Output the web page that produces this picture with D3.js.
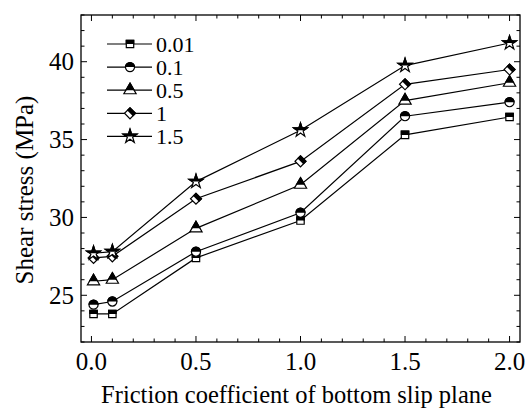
<!DOCTYPE html>
<html>
<head>
<meta charset="utf-8">
<script src="https://cdn.jsdelivr.net/npm/d3@7"></script>
</head>
<body>
<div id="chart"></div>
<script>
// Daten
const frictionX = [0.01, 0.1, 0.5, 1.0, 1.5, 2.0];
const seriesNames = ["0.01", "0.1", "0.5", "1", "1.5"];
const s001 = [23.8, 23.8, 27.4, 29.8, 35.3, 36.45];
const s01 = [24.4, 24.6, 27.8, 30.3, 36.5, 37.4];
const s05 = [25.9, 26.0, 29.3, 32.1, 37.5, 38.65];
const s1 = [27.4, 27.5, 31.2, 33.6, 38.55, 39.5];
const s15 = [27.7, 27.8, 32.3, 35.6, 39.75, 41.2];
const seriesValues = [s001, s01, s05, s1, s15];
const xTickLabels = ["0.0", "0.5", "1.0", "1.5", "2.0"];
const yTickValues = [25, 30, 35, 40];

const width = 527, height = 408;
const margin = { left: 81, right: 7, top: 15, bottom: 66 };
const fontName = '"Liberation Serif", "Times New Roman", Tinos, serif';

d3.select("body").style("margin", "0px");

const svg = d3.select("#chart").append("svg")
    .attr("width", width)
    .attr("height", height)
    .style("font-family", fontName);

const x = d3.scaleLinear().domain([-0.05, 2.05]).range([margin.left, width - margin.right]);
const y = d3.scaleLinear().domain([22, 43]).range([height - margin.bottom, margin.top]);

// Marker-Formen
const symbolTypes = [d3.symbolSquare, d3.symbolCircle, d3.symbolTriangle, d3.symbolSquare, d3.symbolStar];
const symbolSizes = [55, 65, 65, 60, 60];
const symbolRotate = [0, 0, 0, 45, 0];

svg.append("defs").append("clipPath")
    .attr("id", "tophalf")
    .append("rect")
    .attr("x", -12).attr("y", -12).attr("width", 24).attr("height", 12);

function drawMarker(g, i) {
    const p = d3.symbol().type(symbolTypes[i]).size(symbolSizes[i])();
    g.append("path").attr("d", p)
        .attr("transform", `rotate(${symbolRotate[i]})`)
        .attr("fill", "#fff").attr("stroke", "#000").attr("stroke-width", 1.2);
    g.append("path").attr("d", p)
        .attr("transform", `rotate(${symbolRotate[i]})`)
        .attr("clip-path", "url(#tophalf)")
        .attr("fill", "#000").attr("stroke", "#000").attr("stroke-width", 1.2);
}

// Achsen (Ticks nach innen, auf allen vier Seiten)
const majorX = [0, 0.5, 1.0, 1.5, 2.0];
const minorX = d3.range(0, 21).map(d => d / 10);
const minorY = d3.range(22, 44);

const axisG = svg.append("g").attr("stroke", "#000").attr("stroke-width", 1);
const y0 = y.range()[0], y1 = y.range()[1];
const x0 = x.range()[0], x1 = x.range()[1];

minorX.forEach(v => {
    const len = majorX.some(m => Math.abs(m - v) < 1e-9) ? 6 : 3.5;
    axisG.append("line").attr("x1", x(v)).attr("x2", x(v)).attr("y1", y0).attr("y2", y0 - len);
    axisG.append("line").attr("x1", x(v)).attr("x2", x(v)).attr("y1", y1).attr("y2", y1 + len);
});
minorY.forEach(v => {
    const len = yTickValues.includes(v) ? 6 : 3.5;
    axisG.append("line").attr("y1", y(v)).attr("y2", y(v)).attr("x1", x0).attr("x2", x0 + len);
    axisG.append("line").attr("y1", y(v)).attr("y2", y(v)).attr("x1", x1).attr("x2", x1 - len);
});

svg.append("rect")
    .attr("x", x0).attr("y", y1)
    .attr("width", x1 - x0).attr("height", y0 - y1)
    .attr("fill", "none").attr("stroke", "#000").attr("stroke-width", 1.3);

// Tick-Beschriftung
svg.selectAll(".xlab")
    .data(majorX)
    .enter().append("text")
    .attr("class", "xlab")
    .attr("x", d => x(d))
    .attr("y", y0 + 28)
    .attr("text-anchor", "middle")
    .style("font-family", fontName)
    .style("font-size", "25px")
    .text((d, i) => xTickLabels[i]);

svg.selectAll(".ylab")
    .data(yTickValues)
    .enter().append("text")
    .attr("class", "ylab")
    .attr("x", x0 - 7)
    .attr("y", d => y(d) + 8.5)
    .attr("text-anchor", "end")
    .style("font-family", fontName)
    .style("font-size", "25px")
    .text(d => d);

// Achsentitel
svg.append("text")
    .attr("x", (x0 + x1) / 2 - 4)
    .attr("y", 403)
    .attr("text-anchor", "middle")
    .style("font-family", fontName)
    .style("font-size", "24.5px")
    .text("Friction coefficient of bottom slip plane");

svg.append("text")
    .attr("transform", "translate(33, 190) rotate(-90)")
    .attr("text-anchor", "middle")
    .style("font-family", fontName)
    .style("font-size", "25px")
    .text("Shear stress (MPa)");

// Linien und Marker
const line = d3.line()
    .x((d, i) => x(frictionX[i]))
    .y(d => y(d));

seriesValues.forEach((vals, i) => {
    svg.append("path")
        .attr("d", line(vals))
        .attr("fill", "none")
        .attr("stroke", "#000")
        .attr("stroke-width", 1.2);
});

seriesValues.forEach((vals, i) => {
    vals.forEach((v, j) => {
        const g = svg.append("g").attr("transform", `translate(${x(frictionX[j])},${y(v)})`);
        drawMarker(g, i);
    });
});

// Legende
seriesNames.forEach((name, i) => {
    const ly = 44 + i * 23.1;
    svg.append("line")
        .attr("x1", 107).attr("x2", 152)
        .attr("y1", ly).attr("y2", ly)
        .attr("stroke", "#000").attr("stroke-width", 1.2);
    const g = svg.append("g").attr("transform", `translate(130,${ly})`);
    drawMarker(g, i);
    svg.append("text")
        .attr("x", 156)
        .attr("y", ly + 7.5)
        .style("font-family", fontName)
        .style("font-size", "22px")
        .text(name);
});
</script>
</body>
</html>
